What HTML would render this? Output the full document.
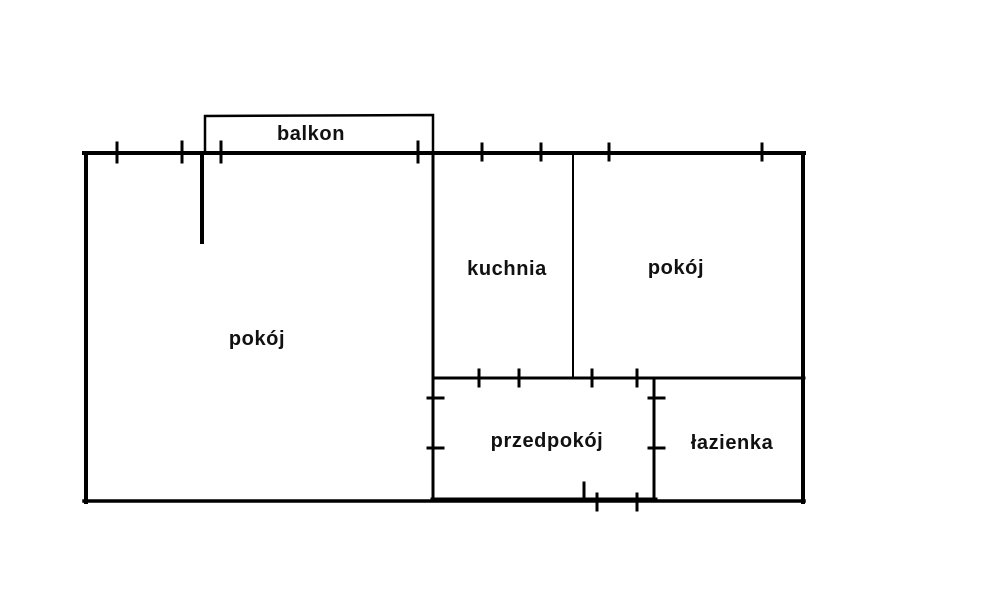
<!DOCTYPE html>
<html><head><style>html,body{margin:0;padding:0;background:#fff}svg{display:block}text{font-family:"Liberation Sans",sans-serif;font-weight:bold;font-size:20px;letter-spacing:0.6px;fill:#111;text-anchor:middle;dominant-baseline:central}</style></head><body>
<svg width="986" height="616" viewBox="0 0 986 616" xmlns="http://www.w3.org/2000/svg">
<g stroke="#000" fill="none" stroke-linecap="square">
<polyline points="205,153 205,116 433,115 433,153" stroke-width="2.5"/>
<line x1="84" y1="153" x2="804" y2="153" stroke-width="4"/>
<line x1="86" y1="153" x2="86" y2="502" stroke-width="4"/>
<line x1="84" y1="501" x2="804" y2="501" stroke-width="3.5"/>
<line x1="433" y1="500" x2="655" y2="500" stroke-width="5"/>
<line x1="803" y1="153" x2="803" y2="502" stroke-width="4"/>
<line x1="202" y1="153" x2="202" y2="242" stroke-width="4"/>
<line x1="433" y1="153" x2="433" y2="501" stroke-width="3"/>
<line x1="573" y1="153" x2="573" y2="378" stroke-width="2"/>
<line x1="433" y1="378" x2="804" y2="378" stroke-width="3"/>
<line x1="654" y1="378" x2="654" y2="501" stroke-width="3"/>
<g stroke-width="3">
<line x1="117" y1="143" x2="117" y2="162"/><line x1="182" y1="142" x2="182" y2="162"/>
<line x1="221" y1="142" x2="221" y2="162"/><line x1="418" y1="142" x2="418" y2="162"/>
<line x1="482" y1="144" x2="482" y2="160"/><line x1="541" y1="144" x2="541" y2="160"/>
<line x1="609" y1="144" x2="609" y2="160"/><line x1="762" y1="144" x2="762" y2="160"/>
<line x1="479" y1="370" x2="479" y2="386"/><line x1="519" y1="370" x2="519" y2="386"/>
<line x1="592" y1="370" x2="592" y2="386"/><line x1="637" y1="370" x2="637" y2="386"/>
<line x1="428" y1="398" x2="443" y2="398"/><line x1="428" y1="448" x2="443" y2="448"/>
<line x1="649" y1="398" x2="664" y2="398"/><line x1="649" y1="448" x2="664" y2="448"/>
<line x1="584" y1="483" x2="584" y2="500"/>
<line x1="597" y1="494" x2="597" y2="510"/><line x1="637" y1="494" x2="637" y2="510"/>
</g></g>
<text x="311" y="134">balkon</text>
<text x="507" y="269">kuchnia</text>
<text x="676" y="268">pokój</text>
<text x="257" y="339">pokój</text>
<text x="547" y="441">przedpokój</text>
<text x="732" y="443">łazienka</text>
</svg>
</body></html>
